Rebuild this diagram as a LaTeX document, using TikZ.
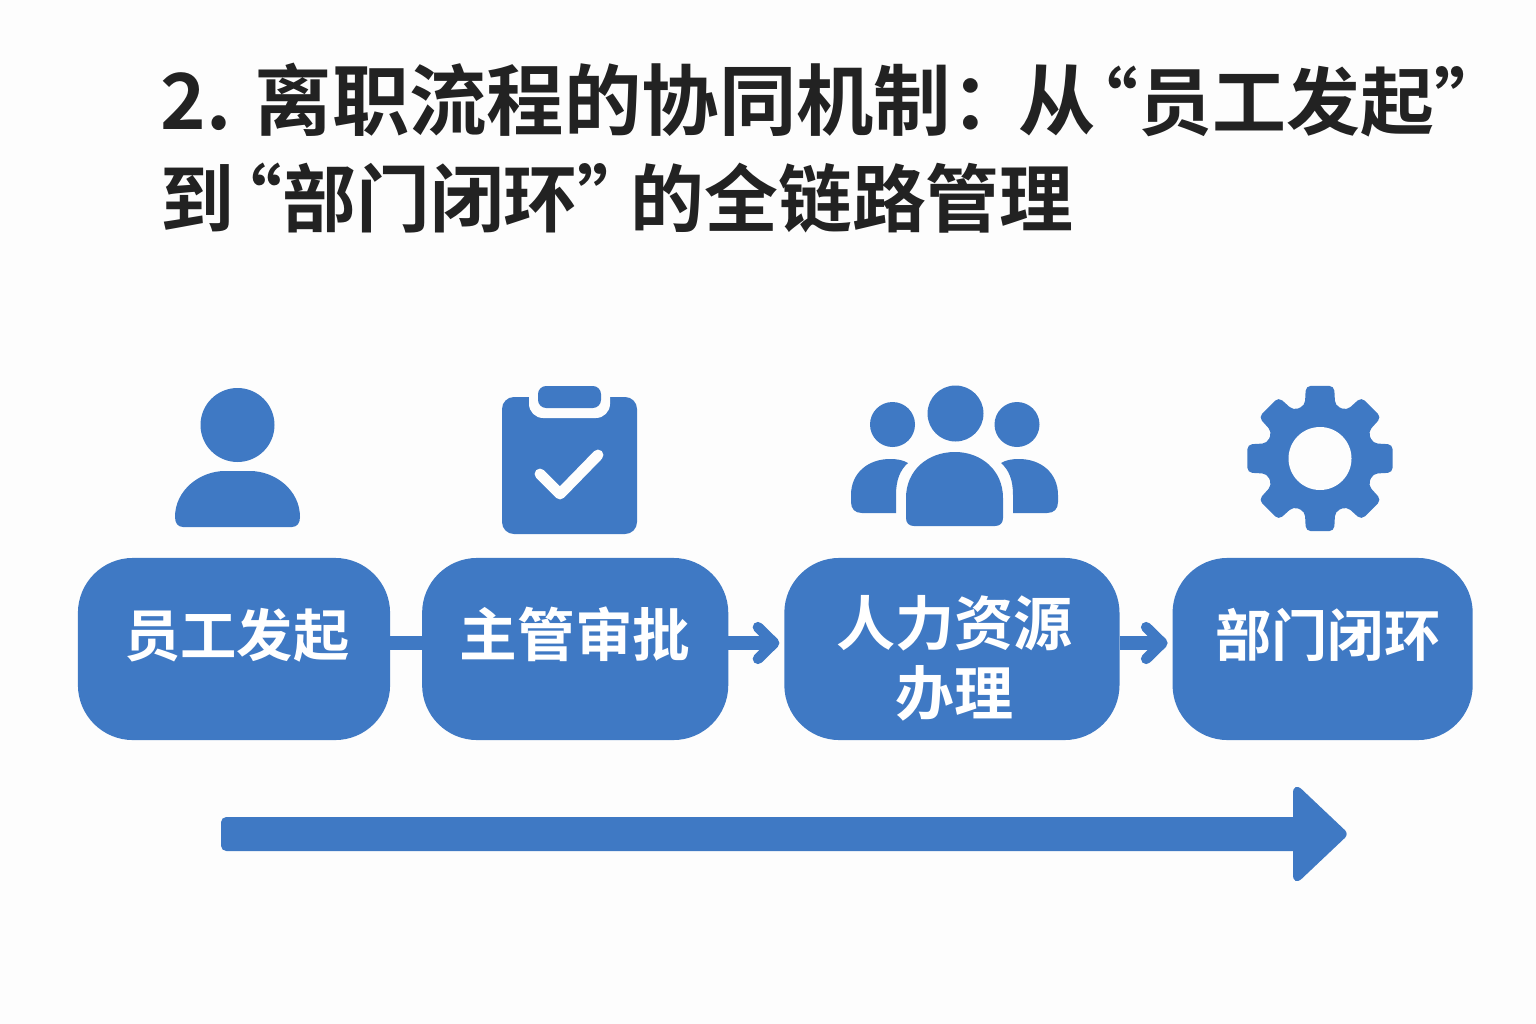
\documentclass[tikz,border=0pt]{standalone}
\usepackage{fontspec}
\setmainfont{Noto Sans CJK SC}[BoldFont={Noto Sans CJK SC Bold}]
\usetikzlibrary{positioning,arrows.meta}
\definecolor{stepblue}{HTML}{3F79C4}
\definecolor{pagebg}{HTML}{FDFDFD}
\definecolor{titleink}{HTML}{222222}
\newcommand{\openq}{\kern-7.4pt “}
\newcommand{\closeq}{”\kern-6pt}
\newcommand{\titlenarrow}{\fontsize{21}{27.6}\selectfont}
\tikzset{
	flow/.style={x=0.01cm,y=-0.01cm},
	titletext/.style={anchor=north west,inner sep=0,align=left,text=titleink,
		font=\fontsize{22}{27.6}\selectfont\bfseries},
	stepbox/.style={rectangle,fill=stepblue,rounded corners=0.55cm,inner sep=0,outer sep=0,
		minimum height=1.82cm,text=white,align=center,text height=14.6pt,text depth=10.6pt,
		font=\fontsize{16}{19.4}\selectfont\bfseries},
	steplink/.style={draw=stepblue,line width=3.7pt},
	stepflow/.style={steplink,-{Straight Barb[round,length=4.6pt,width=9pt,line width=3pt]},shorten >=1.4pt},
	icon/.style={fill=stepblue},
	iconcut/.style={fill=pagebg}
}

\begin{document}
\begin{tikzpicture}[flow]
	\useasboundingbox (0,0) rectangle (1536,1024);
	\fill[pagebg] (0,0) rectangle (1536,1024);

	\node[titletext] (title) at (160,62) {2. 离职流程的协同机制：\kern-2.8pt 从{\titlenarrow\kern-1.5pt\openq 员工发起\closeq}\\\titlenarrow 到\openq 部门闭环\closeq 的全链路管理};

	\node[stepbox,minimum width=3.12cm] (faqi) at (234,649) {\hspace*{1.7pt}员工发起};
	\node[stepbox,minimum width=3.06cm,font=\fontsize{16.4}{19.4}\selectfont\bfseries] (shenpi) [right=0.32cm of faqi] {主管审批};
	\node[stepbox,minimum width=3.35cm,text height=37.6pt,text depth=0pt,font=\fontsize{16.8}{19.4}\selectfont\bfseries] (banli) [right=0.56cm of shenpi] {\hspace*{1.7pt}人力资源\\[0.3pt]\hspace*{1.7pt}办理};
	\node[stepbox,minimum width=3cm] (bihuan) [right=0.53cm of banli] {\hspace*{3pt}部门闭环};

	\draw[steplink] ([yshift=0.6mm]faqi.east) -- ([yshift=0.6mm]shenpi.west);
	\draw[stepflow] ([yshift=0.6mm]shenpi.east) -- ([yshift=0.6mm]banli.west);
	\draw[stepflow] ([yshift=0.6mm]banli.east) -- ([yshift=0.6mm]bihuan.west);

	% time arrow
	\fill[icon] [rounded corners=1.5pt] (221,817) [sharp corners] -- (1293,817) [rounded corners=3.5pt] -- (1293,781)
		[rounded corners=1.6pt] -- (1349,834) [rounded corners=3.5pt] -- (1293,887) [sharp corners] -- (1293,851)
		[rounded corners=1.5pt] -- (221,851) -- cycle;

	% person
	\fill[icon] (237.5,425) circle (37);
	\fill[icon] (183,527) .. controls (178,527) and (175,523) .. (175,517)
		.. controls (175,490) and (200,471) .. (225,471) -- (250,471)
		.. controls (275,471) and (300,490) .. (300,517)
		.. controls (300,523) and (297,527) .. (292,527) -- cycle;

	% clipboard
	\fill[icon,rounded corners=3.4pt] (502,397) rectangle (637,534);
	\fill[iconcut,rounded corners=4pt] (529,380) rectangle (610,418);
	\fill[icon,rounded corners=2.3pt] (538,386) rectangle (601,408);
	\draw[draw=pagebg,line width=3.1pt,line cap=round,line join=round] (540,474) -- (560,494) -- (598,455);

	% team
	\fill[icon] (955.5,413.5) circle (28);
	\fill[icon] (892.5,424.5) circle (22.5);
	\fill[icon] (1017,424.5) circle (22.5);
	\fill[icon] (896,513) -- (862,513) .. controls (855,513) and (851,509) .. (851,502) -- (851,495)
		.. controls (851,473) and (868,459) .. (890,459) .. controls (897,459) and (903,460) .. (908,463)
		.. controls (900,470) and (896,480) .. (896,495) -- cycle;
	\fill[icon] (1013,513) -- (1047,513) .. controls (1054,513) and (1058,509) .. (1058,502) -- (1058,495)
		.. controls (1058,473) and (1041,459) .. (1019,459) .. controls (1012,459) and (1006,460) .. (1001,463)
		.. controls (1009,470) and (1013,480) .. (1013,495) -- cycle;
	\fill[icon] (914,526) .. controls (909,526) and (906,523) .. (906,518) -- (906,498)
		.. controls (906,470) and (928,452) .. (955,452) .. controls (981,452) and (1003,470) .. (1003,498)
		-- (1003,518) .. controls (1003,523) and (1000,526) .. (995,526) -- cycle;

	% gear
	\begin{scope}[shift={(1320,458.5)}]
		\fill[icon,rounded corners=1.4pt] (-11:74) -- (11:74) -- (16:55)
			\foreach \a in {45,90,...,315} { -- (\a-16:55) -- (\a-11:74) -- (\a+11:74) -- (\a+16:55) } -- (-16:55) -- cycle;
		\fill[iconcut] (0,0) circle (31.5);
	\end{scope}
\end{tikzpicture}
\end{document}
